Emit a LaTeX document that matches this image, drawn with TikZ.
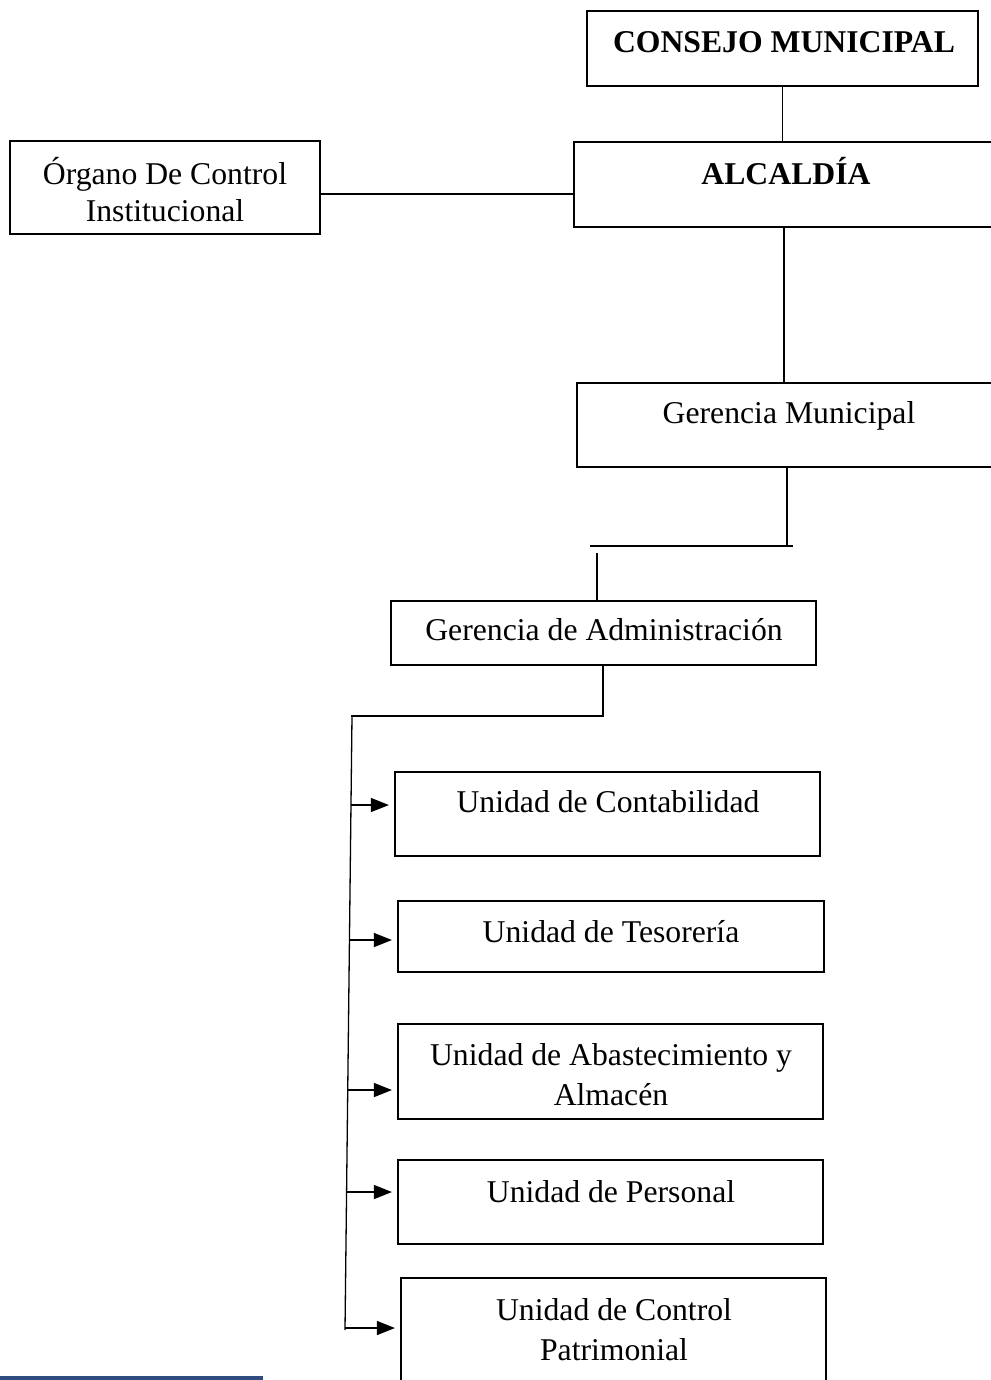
\documentclass[tikz,border=0pt]{standalone}
\usepackage{fontspec}
\setmainfont{Liberation Serif}
\usetikzlibrary{arrows.meta}
\definecolor{barblue}{RGB}{47,76,128}
\begin{document}
\begin{tikzpicture}[x=1pt,y=-1pt,
  box/.style={draw=black, line width=2.2pt, inner sep=0pt, fill=none},
  txt/.style={font=\fontsize{31.7}{40}\selectfont, inner sep=0pt, align=center},
  btxt/.style={font=\fontsize{31.7}{40}\selectfont\bfseries, inner sep=0pt, align=center},
  conn/.style={draw=black, line width=1.3pt},
  arr/.style={draw=black, line width=1.3pt, -{Triangle[length=18pt,width=14pt]}, shorten >=5pt}]
\useasboundingbox (0,0) rectangle (990,1380);
\fill[white] (0,0) rectangle (990,1380);

% boxes
\node[box, minimum width=391pt, minimum height=75pt] (cm) at (782.5,48.5) {};
\node[box, minimum width=424pt, minimum height=85pt] (alc) at (786,184.5) {};
\node[box, minimum width=310pt, minimum height=93pt] (org) at (165,187.5) {};
\node[box, minimum width=424pt, minimum height=84pt] (gm) at (789,425) {};
\node[box, minimum width=425pt, minimum height=64pt] (ga) at (603.5,633) {};
\node[box, minimum width=425pt, minimum height=84pt] (u1) at (607.5,814) {};
\node[box, minimum width=426pt, minimum height=71pt] (u2) at (611,936.5) {};
\node[box, minimum width=425pt, minimum height=95pt] (u3) at (610.5,1071.5) {};
\node[box, minimum width=425pt, minimum height=84pt] (u4) at (610.5,1202) {};
\node[box, minimum width=425pt, minimum height=115pt] (u5) at (613.5,1335.5) {};

% texts
\node[btxt, anchor=base] (tcm) at (784,53) {CONSEJO MUNICIPAL};
\node[btxt, anchor=base] (talc) at (786,185) {ALCALDÍA};
\node[txt, font=\fontsize{31.7}{37}\selectfont] (torg) at (165,190) {Órgano De Control\\Institucional};
\node[txt, anchor=base] (tgm) at (789,423) {Gerencia Municipal};
\node[txt, anchor=base] (tga) at (604,640) {Gerencia de Administración};
\node[txt, anchor=base] (tu1) at (608,812) {Unidad de Contabilidad};
\node[txt, anchor=base] (tu2) at (611,942) {Unidad de Tesorería};
\node[txt] (tu3) at (611,1075) {Unidad de Abastecimiento y\\Almacén};
\node[txt, anchor=base] (tu4) at (611,1202) {Unidad de Personal};
\node[txt] (tu5) at (614,1330) {Unidad de Control\\Patrimonial};

% connectors
\draw[conn] (cm.south) -- (cm.south |- alc.north);
\draw[conn] ([yshift=-6.5pt]org.east) -- ([yshift=-6.5pt]org.east -| alc.west);
\draw[conn] ([xshift=-2pt]alc.south) -- ([xshift=-2pt]alc.south |- gm.north);
\coordinate (j1) at (590,546);
\coordinate (j1r) at (793,546);
\draw[conn] ([xshift=-2pt]gm.south) -- ([xshift=-2pt]gm.south |- j1);
\draw[conn] (j1) -- (j1r);
\coordinate (j2) at (597,553);
\draw[conn] (j2) -- ([yshift=-2pt]j2 |- ga.north);
\coordinate (j3) at (351,716);
\draw[conn] ([xshift=-0.5pt]ga.south) |- (j3);
\coordinate (t0) at (352,716);
\coordinate (t1) at (345,1330);
\draw[conn] (t0) -- (t1);

\coordinate (s1) at (351,805);
\coordinate (s2) at (349.5,940);
\coordinate (s3) at (347.7,1090);
\coordinate (s4) at (346.6,1192);
\coordinate (s5) at (345,1328);
\draw[arr] (s1) -- (s1 -| u1.west);
\draw[arr] (s2) -- (s2 -| u2.west);
\draw[arr] (s3) -- (s3 -| u3.west);
\draw[arr] (s4) -- (s4 -| u4.west);
\draw[arr] (s5) -- (s5 -| u5.west);

% bottom bar
\fill[barblue] (0,1376) rectangle (263,1381);
\end{tikzpicture}
\end{document}
